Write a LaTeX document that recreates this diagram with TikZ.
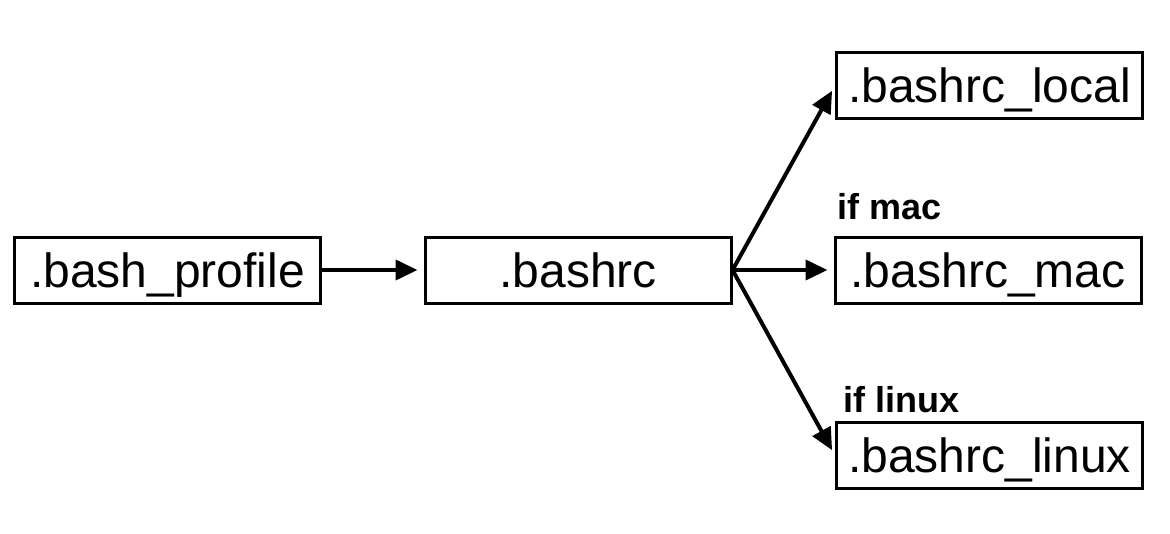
\documentclass[tikz,border=0pt]{standalone}
\usepackage{fontspec}
\setmainfont{Liberation Sans}
\usetikzlibrary{arrows.meta}
\begin{document}
\begin{tikzpicture}[x=0.5pt,y=-0.5pt,
  box/.style={draw=black,line width=1.5pt,inner sep=0pt,minimum width=153pt,minimum height=33pt,text height=22pt,text depth=5pt,font=\fontsize{24pt}{28pt}\selectfont},
  conn/.style={line width=2pt,-{Triangle[length=11pt,width=10pt]},shorten >=3pt},
  lbl/.style={anchor=base west,inner sep=0pt,font=\fontsize{18pt}{21pt}\selectfont\bfseries}]
\useasboundingbox (0,0) rectangle (1170,534);
\node[box] (prof) at (167.5,270) {.bash\_profile};
\node[box] (rc) at (578,270) {.bashrc};
\node[box] (local) at (989.5,85.5) {.bashrc\_local};
\node[box] (mac) at (988,270) {.bashrc\_mac};
\node[box] (linux) at (989.5,455.5) {.bashrc\_linux};
\node[lbl] (ifmac) at (837,220) {if mac};
\node[lbl] (iflinux) at (843,412) {if linux};
\draw[conn] (prof) -- (rc);
\draw[conn] (rc.east) -- (local.west);
\draw[conn] (rc.east) -- (mac.west);
\draw[conn] (rc.east) -- (linux.west);
\end{tikzpicture}
\end{document}
